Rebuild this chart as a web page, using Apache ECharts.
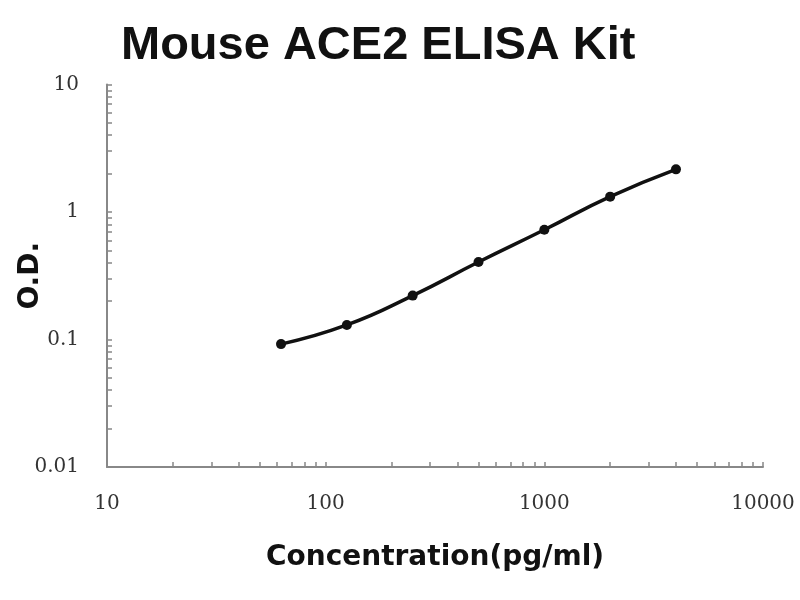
<!DOCTYPE html>
<html>
<head>
<meta charset="utf-8">
<script src="https://cdn.jsdelivr.net/npm/echarts@6/dist/echarts.min.js"></script>
<style>html,body{margin:0;padding:0;background:#fff}#c{width:800px;height:600px}</style>
</head>
<body>
<div id="c"></div>
<script>
const concentrations = [62.5, 125, 250, 500, 1000, 2000, 4000];
const odValues = [0.092, 0.130, 0.221, 0.405, 0.725, 1.32, 2.16];
const xTickValues = [20,30,40,50,60,70,80,90,100,200,300,400,500,600,700,800,900,1000,2000,3000,4000,5000,6000,7000,8000,9000,10000];
const yTickValues = [0.02,0.03,0.04,0.05,0.06,0.07,0.08,0.09,0.1,0.2,0.3,0.4,0.5,0.6,0.7,0.8,0.9,1,2,3,4,5,6,7,8,9,10];

const chart = echarts.init(document.getElementById('c'));
const fmt = v => String(+(+v).toPrecision(6));
chart.setOption({
  animation: false,
  title: {
    text: 'Mouse ACE2 ELISA Kit',
    left: 116,
    top: 18,
    textStyle: {fontFamily: 'Liberation Sans', fontWeight: 'bold', fontSize: 47, color: '#111'}
  },
  grid: {left: 107, right: 37, top: 84.5, bottom: 133, containLabel: false, outerBoundsMode: 'none'},
  xAxis: {
    type: 'log', logBase: 10, min: 10, max: 10000,
    name: 'Concentration(pg/ml)', nameLocation: 'middle', nameGap: 77, nameMoveOverlap: false,
    nameTextStyle: {fontFamily: 'DejaVu Sans', fontWeight: 'bold', fontSize: 28, color: '#111'},
    axisLine: {lineStyle: {color: '#888', width: 2}},
    axisTick: {show: true, inside: true, length: 5, customValues: xTickValues, lineStyle: {color: '#888', width: 1.5}},
    axisLabel: {margin: 27, fontFamily: 'DejaVu Serif', fontSize: 20, color: '#333', formatter: fmt},
    splitLine: {show: false}
  },
  yAxis: {
    type: 'log', logBase: 10, min: 0.01, max: 10,
    name: 'O.D.', nameLocation: 'middle', nameGap: 62, nameMoveOverlap: false,
    nameTextStyle: {fontFamily: 'DejaVu Sans', fontWeight: 'bold', fontSize: 28, color: '#111'},
    axisLine: {show: true, lineStyle: {color: '#888', width: 2}},
    axisTick: {show: true, inside: true, length: 5, customValues: yTickValues, lineStyle: {color: '#888', width: 1.5}},
    axisLabel: {margin: 28, fontFamily: 'DejaVu Serif', fontSize: 20, color: '#333', formatter: fmt},
    splitLine: {show: false}
  },
  series: [{
    type: 'line',
    data: concentrations.map((c, i) => [c, odValues[i]]),
    smooth: true,
    symbol: 'circle',
    symbolSize: 10,
    lineStyle: {color: '#111', width: 3.5},
    itemStyle: {color: '#111'}
  }]
});
</script>
</body>
</html>
